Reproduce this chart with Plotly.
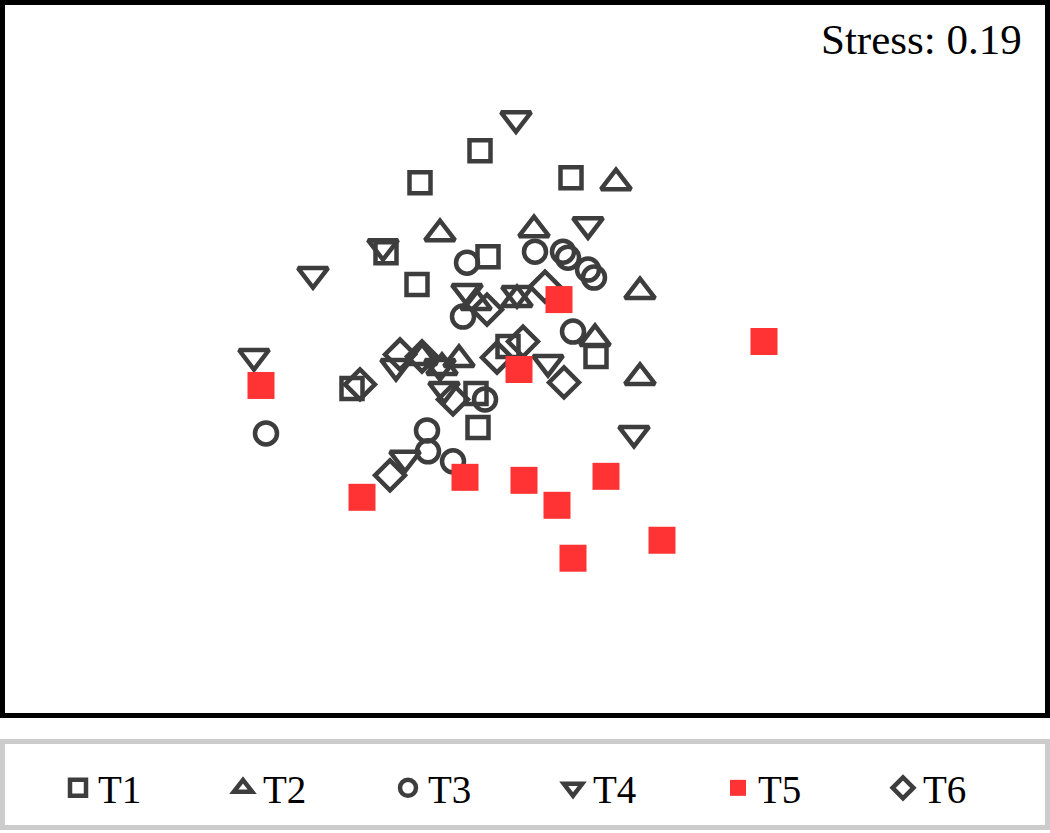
import plotly.graph_objects as go

# NMDS coordinates
t1_x = [-0.08, -0.32, 0.284, -0.456, -0.048, -0.332, 0.384, -0.592, -0.096, -0.088, 0.032]
t1_y = [0.836, 0.708, 0.728, 0.428, 0.412, 0.30, 0.012, -0.116, -0.136, -0.272, 0.052]

t2_x = [0.464, -0.24, 0.136, 0.56, 0.38, -0.164, 0.56, 0.068, -0.096, -0.312, -0.232]
t2_y = [0.708, 0.504, 0.52, 0.272, 0.084, 0.0, -0.072, 0.24, 0.228, 0.008, -0.032]

t3_x = [-0.132, 0.14, 0.252, 0.272, 0.352, 0.376, 0.292, -0.148, -0.06, -0.292, -0.288, -0.188, -0.936]
t3_y = [0.388, 0.432, 0.432, 0.408, 0.36, 0.328, 0.112, 0.172, -0.16, -0.284, -0.368, -0.408, -0.296]

t4_x = [0.064, 0.352, -0.468, -0.748, -0.132, 0.068, -0.984, -0.416, -0.24, -0.224, 0.192, 0.536, -0.38]
t4_y = [0.964, 0.54, 0.452, 0.34, 0.272, 0.264, 0.012, -0.028, -0.028, -0.12, -0.012, -0.296, -0.396]

t5_x = [-0.956, 0.236, 1.056, 0.076, -0.552, -0.14, 0.096, 0.228, 0.424, 0.648, 0.292]
t5_y = [-0.104, 0.24, 0.072, -0.04, -0.552, -0.472, -0.484, -0.584, -0.468, -0.724, -0.796]

t6_x = [0.18, -0.052, -0.4, -0.312, -0.56, -0.188, -0.44, -0.012, 0.092, 0.256]
t6_y = [0.292, 0.2, 0.02, 0.012, -0.1, -0.16, -0.464, 0.008, 0.072, -0.092]

stress_label = "Stress: 0.19"

GRAY = "#3d3d3d"
RED = "#ff3333"
SERIF = "Liberation Serif, Times New Roman, serif"

groups = [
    ("T1", t1_x, t1_y, "square-open", 21, 1),
    ("T2", t2_x, t2_y, "triangle-up-open", 26, 2),
    ("T3", t3_x, t3_y, "circle-open", 22, 3),
    ("T4", t4_x, t4_y, "triangle-down-open", 26, 4),
    ("T6", t6_x, t6_y, "diamond-open", 23, 6),
]

fig = go.Figure()
for name, xs, ys, sym, sz, rank in groups:
    fig.add_trace(go.Scatter(
        x=xs, y=ys, mode="markers", name=name, legendrank=rank,
        marker=dict(symbol=sym, size=sz, color=GRAY, line=dict(color=GRAY, width=4.5)),
    ))
fig.add_trace(go.Scatter(
    x=t5_x, y=t5_y, mode="markers", name="T5", legendrank=5,
    marker=dict(symbol="square", size=27, color=RED, line=dict(width=0)),
))

fig.update_layout(
    width=1050, height=833,
    margin=dict(l=0, r=0, t=0, b=0),
    paper_bgcolor="white", plot_bgcolor="white",
    showlegend=True,
    xaxis=dict(range=[-2.0, 2.2], visible=False, domain=[0, 1]),
    yaxis=dict(range=[-1.428, 1.44], visible=False, domain=[117/833, 1]),
    legend=dict(
        orientation="h", x=58/1050, xanchor="left", y=45/833, yanchor="middle",
        font=dict(family=SERIF, size=39, color="black"),
        bgcolor="rgba(0,0,0,0)", borderwidth=0,
        entrywidth=120, traceorder="normal",
    ),
    shapes=[
        dict(type="rect", xref="paper", yref="paper",
             x0=2.5/1050, x1=1-2.5/1050, y0=(833-715.5)/833, y1=1-2.5/833,
             line=dict(color="black", width=5), fillcolor="rgba(0,0,0,0)"),
        dict(type="rect", xref="paper", yref="paper",
             x0=2.5/1050, x1=1-2.5/1050, y0=5.5/833, y1=(833-741.5)/833,
             line=dict(color="#cccccc", width=5), fillcolor="rgba(0,0,0,0)"),
    ],
    annotations=[
        dict(text=stress_label, xref="paper", yref="paper",
             x=1024/1050, y=(833-40)/833, xanchor="right", yanchor="middle",
             showarrow=False, font=dict(family=SERIF, size=43, color="black")),
    ],
)

fig.write_html(
    "out.html",
    config={"displayModeBar": False},
    post_script="document.body.style.margin='0';document.body.style.padding='0';",
)
